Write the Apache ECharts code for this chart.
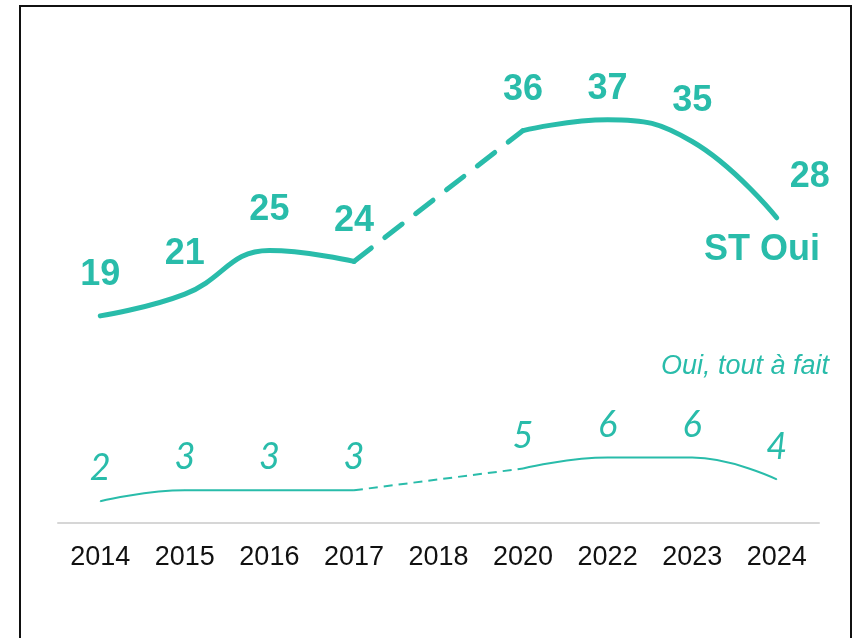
<!DOCTYPE html>
<html>
<head>
<meta charset="utf-8">
<script src="https://cdn.jsdelivr.net/npm/echarts@6/dist/echarts.min.js"></script>
<style>
  html, body { margin: 0; padding: 0; background: #fff; }
  #chart { width: 861px; height: 638px; }
</style>
</head>
<body>
<div id="chart"></div>
<script>
// categories (2019 and 2021 not surveyed)
const years = ['2014', '2015', '2016', '2017', '2018', '2020', '2022', '2023', '2024'];
// "ST Oui" (total yes)
const stOui = [19, 21, 25, 24, null, 36, 37, 35, 28];
// "Oui, tout à fait"
const ouiTout = [2, 3, 3, 3, null, 5, 6, 6, 4];

const teal = '#29bcaa';

// dashed bridge over the missing 2018 value: only the two ends of the gap
function bridge(arr) {
  return arr.map((v, i) => (i === 3 || i === 5) ? v : null);
}

// a few labels sit off the usual spot in the original
const stLabelOffsets = { 6: [0, 10], 8: [33, 0] };

const chart = echarts.init(document.getElementById('chart'));

chart.setOption({
  animation: false,
  grid: {
    left: 58,
    right: 42,
    top: 87,
    bottom: 115
  },
  xAxis: {
    type: 'category',
    data: years,
    boundaryGap: true,
    axisTick: { show: false },
    axisLine: {
      lineStyle: { color: '#d6d6d6', width: 2 }
    },
    axisLabel: {
      color: '#111',
      fontSize: 27,
      fontFamily: '"Liberation Sans Narrow", "Liberation Sans", sans-serif',
      margin: 21
    }
  },
  yAxis: {
    type: 'value',
    min: 0,
    max: 40,
    show: false
  },
  graphic: [
    {
      type: 'rect',
      shape: { x: 20, y: 6, width: 831, height: 700 },
      style: { fill: 'none', stroke: '#111', lineWidth: 2 }
    },
    {
      type: 'text',
      x: 762,
      y: 250,
      style: {
        text: 'ST Oui',
        fill: teal,
        font: 'bold 36px "Liberation Sans", Arial, sans-serif',
        textAlign: 'center',
        textVerticalAlign: 'middle'
      }
    },
    {
      type: 'text',
      x: 745,
      y: 366,
      style: {
        text: 'Oui, tout à fait',
        fill: teal,
        font: 'italic 27px "Liberation Sans", Arial, sans-serif',
        textAlign: 'center',
        textVerticalAlign: 'middle'
      }
    }
  ],
  series: [
    {
      name: 'ST Oui',
      type: 'line',
      smooth: 0.45,
      symbol: 'circle',
      symbolSize: 1,
      itemStyle: { color: teal },
      lineStyle: { color: teal, width: 5, cap: 'round' },
      data: stOui.map((v, i) => stLabelOffsets[i]
        ? { value: v, label: { offset: stLabelOffsets[i] } }
        : v),
      label: {
        show: true,
        position: 'top',
        distance: 22,
        color: teal,
        fontSize: 36,
        fontWeight: 'bold',
        fontFamily: '"Liberation Sans", Arial, sans-serif'
      }
    },
    {
      name: 'ST Oui 2018',
      type: 'line',
      connectNulls: true,
      symbol: 'none',
      lineStyle: { color: teal, width: 5, type: [22, 17], cap: 'round' },
      data: bridge(stOui)
    },
    {
      name: 'Oui, tout à fait',
      type: 'line',
      smooth: 0.45,
      symbol: 'circle',
      symbolSize: 1,
      itemStyle: { color: teal },
      lineStyle: { color: teal, width: 2 },
      data: ouiTout,
      label: {
        show: true,
        position: 'top',
        distance: 14,
        color: teal,
        fontSize: 36,
        fontStyle: 'italic',
        fontWeight: 'normal',
        fontFamily: 'Lato, "Liberation Sans", sans-serif'
      }
    },
    {
      name: 'Oui, tout à fait 2018',
      type: 'line',
      connectNulls: true,
      symbol: 'none',
      lineStyle: { color: teal, width: 2, type: [9, 6] },
      data: bridge(ouiTout)
    }
  ]
});
</script>
</body>
</html>
